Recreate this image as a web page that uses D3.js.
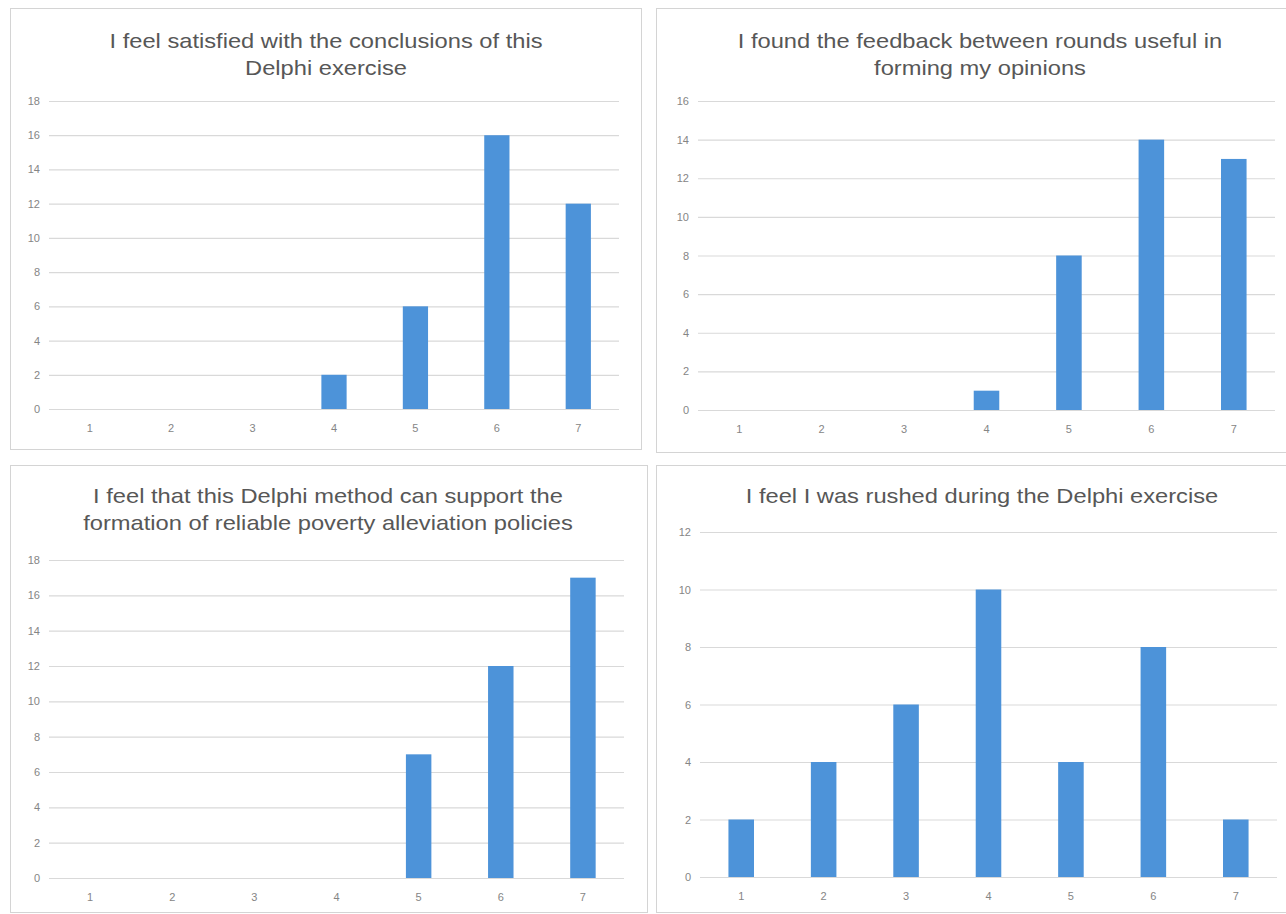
<!DOCTYPE html>
<html>
<head>
<meta charset="utf-8">
<script src="https://cdn.jsdelivr.net/npm/d3@7"></script>
<style>
  html, body { margin: 0; padding: 0; background: #ffffff; }
  svg { display: block; }
  .tick text { font-family: "Liberation Sans", Arial, sans-serif; font-size: 11px; fill: #858585; }
  .title { font-family: "Liberation Sans", Arial, sans-serif; font-size: 20px; fill: #575757; }
</style>
</head>
<body>
<svg id="chart" width="1286" height="914"></svg>
<script>
// Likert response categories shared by every panel
const categories = ["1", "2", "3", "4", "5", "6", "7"];

// Response counts per statement
const satisfiedCounts = [0, 0, 0, 2, 6, 16, 12];
const feedbackCounts  = [0, 0, 0, 1, 8, 14, 13];
const supportCounts   = [0, 0, 0, 0, 7, 12, 17];
const rushedCounts    = [2, 4, 6, 10, 4, 8, 2];

// Statement titles (wrapped lines)
const satisfiedTitle = ["I feel satisfied with the conclusions of this", "Delphi exercise"];
const feedbackTitle  = ["I found the feedback between rounds useful in", "forming my opinions"];
const supportTitle   = ["I feel that this Delphi method can support the", "formation of reliable poverty alleviation policies"];
const rushedTitle    = ["I feel I was rushed during the Delphi exercise"];

// Upper bound of each value axis
const axisMax = [18, 16, 18, 12];

const panels = [
  { values: satisfiedCounts, title: satisfiedTitle, yMax: axisMax[0],
    box: [10.5, 8.5, 631, 441], plot: [49, 619, 101, 409], titleX: 326, titleY: 48 },
  { values: feedbackCounts, title: feedbackTitle, yMax: axisMax[1],
    box: [656.5, 8.5, 650, 444], plot: [698, 1275, 101, 410], titleX: 980, titleY: 48 },
  { values: supportCounts, title: supportTitle, yMax: axisMax[2],
    box: [10.5, 465.5, 637, 447], plot: [49, 624, 560, 878], titleX: 328, titleY: 503 },
  { values: rushedCounts, title: rushedTitle, yMax: axisMax[3],
    box: [656.5, 465.5, 650, 447], plot: [700, 1277, 532, 877], titleX: 982, titleY: 503 }
];

// titles are set in a slightly extended face
const titleStretch = 1.185;

const svg = d3.select("#chart");

panels.forEach(p => {
  const g = svg.append("g");
  const [x0, x1, yTop, yBottom] = p.plot;

  // chart frame
  g.append("rect")
    .attr("x", p.box[0]).attr("y", p.box[1])
    .attr("width", p.box[2]).attr("height", p.box[3])
    .attr("fill", "#ffffff").attr("stroke", "#d4d4d4").attr("stroke-width", 1);

  // title
  g.append("text").attr("class", "title")
    .attr("text-anchor", "middle")
    .attr("transform", `translate(${p.titleX},0) scale(${titleStretch},1)`)
    .selectAll("tspan").data(p.title).join("tspan")
    .attr("x", 0)
    .attr("y", (d, i) => p.titleY + i * 27)
    .text(d => d);

  const x = d3.scaleBand().domain(categories).range([x0, x1])
    .paddingInner(0.69).paddingOuter(0.345);
  const y = d3.scaleLinear().domain([0, p.yMax]).range([yBottom, yTop]);

  // value axis with horizontal gridlines
  const yAxis = g.append("g")
    .attr("transform", `translate(${x0},0)`)
    .call(d3.axisLeft(y).tickValues(d3.range(0, p.yMax + 1, 2))
      .tickSize(-(x1 - x0)).tickPadding(9).tickFormat(d3.format("d")));
  yAxis.select(".domain").remove();
  yAxis.selectAll(".tick line").attr("stroke", "#d9d9d9").attr("stroke-width", 1.2);

  // bars
  g.append("g").selectAll("rect")
    .data(p.values.map((v, i) => ({ cat: categories[i], v })))
    .join("rect")
    .attr("x", d => x(d.cat))
    .attr("width", x.bandwidth())
    .attr("y", d => y(d.v))
    .attr("height", d => y(0) - y(d.v))
    .attr("fill", "#4d93d9");

  // category axis
  const xAxis = g.append("g")
    .attr("transform", `translate(0,${yBottom})`)
    .call(d3.axisBottom(x).tickSize(0).tickPadding(15));
  xAxis.select(".domain").remove();
});
</script>
</body>
</html>
